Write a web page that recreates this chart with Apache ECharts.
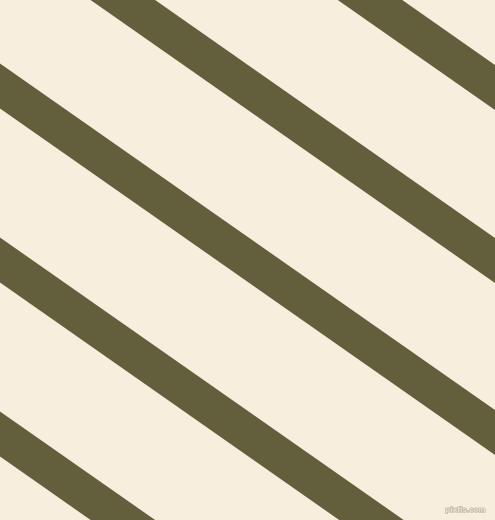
<!DOCTYPE html>
<html>
<head>
<meta charset="utf-8">
<script src="https://cdn.jsdelivr.net/npm/echarts@6/dist/echarts.min.js"></script>
<style>
html,body{margin:0;padding:0;background:#F8EEDE;}
#c{width:495px;height:520px;}
</style>
</head>
<body>
<div id="c"></div>
<script>
// Stripe centre lines: y-intercept at x=0 (pixels of the 495x520 canvas, y downward)
var stripeIntercepts = [-259, -86, 86, 260, 434];
var stripeSlope = 0.7; // tan(35deg)
var xRange = [-60, 560];
var watermark = 'pixfis.com';

var chart = echarts.init(document.getElementById('c'), null, {renderer: 'canvas'});
var series = stripeIntercepts.map(function (b) {
  return {
    type: 'line',
    symbol: 'none',
    silent: true,
    clip: true,
    data: xRange.map(function (x) { return [x, b + stripeSlope * x]; }),
    lineStyle: {width: 37, color: '#635F3C', cap: 'butt'}
  };
});
chart.setOption({
  animation: false,
  backgroundColor: '#F8EEDE',
  grid: {left: 0, right: 0, top: 0, bottom: 0},
  xAxis: {type: 'value', min: 0, max: 495, show: false},
  yAxis: {type: 'value', min: 0, max: 520, inverse: true, show: false},
  series: series,
  graphic: [{
    type: 'text',
    right: 9,
    bottom: 6,
    style: {
      text: watermark,
      font: 'bold 7px "DejaVu Sans"',
      fill: '#EAE2D2',
      stroke: '#B0A898',
      lineWidth: 1
    }
  }]
});
</script>
</body>
</html>
